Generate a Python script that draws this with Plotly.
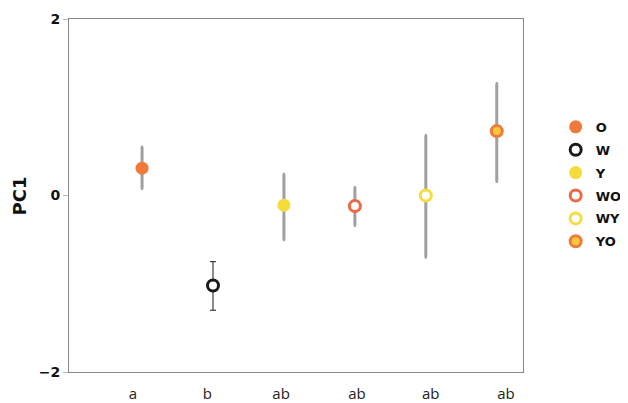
import plotly.graph_objects as go

groups = ["O", "W", "Y", "WO", "WY", "YO"]
x_pos = [0, 1, 2, 3, 4, 5]
means = [0.31, -1.02, -0.11, -0.12, 0.0, 0.73]
upper = [0.55, -0.75, 0.24, 0.09, 0.68, 1.27]
lower = [0.08, -1.30, -0.50, -0.34, -0.70, 0.16]
sig_labels = ["a", "b", "ab", "ab", "ab", "ab"]
label_pos = [-0.13, 0.92, 1.96, 3.03, 4.07, 5.13]

fill_colors = ["#F07A3C", "white", "#F5DC3C", "white", "white", "#F5C93A"]
line_colors = ["#F07A3C", "#1a1a1a", "#F5DC3C", "#EE6A45", "#F7DB3F", "#F07A3C"]
line_widths = [0, 3, 0, 3, 3, 3]
err_colors = ["#a0a0a0", "#1a1a1a", "#a0a0a0", "#a0a0a0", "#a0a0a0", "#a0a0a0"]
err_thick = [3, 1, 3, 3, 3, 3]
err_caps = [1, 3, 1, 1, 1, 1]

fig = go.Figure()
for i, g in enumerate(groups):
    fig.add_trace(go.Scatter(
        x=[x_pos[i]], y=[means[i]], mode="markers", name=g, legendgroup=g,
        marker=dict(size=13 if line_widths[i] == 0 else 11, color=fill_colors[i],
                    line=dict(color=line_colors[i], width=line_widths[i])),
        error_y=dict(type="data", symmetric=False,
                     array=[upper[i] - means[i]], arrayminus=[means[i] - lower[i]],
                     color=err_colors[i], thickness=err_thick[i], width=err_caps[i]),
    ))

fig.add_annotation(text="PC1", xref="paper", yref="paper", x=-0.108, y=0.5,
                   xanchor="center", yanchor="middle", textangle=-90, showarrow=False,
                   font=dict(family="DejaVu Sans", size=18, color="#111", weight="bold"))

fig.update_layout(
    width=620, height=395,
    margin=dict(l=61, r=105, t=11, b=31, autoexpand=False),
    paper_bgcolor="white", plot_bgcolor="white",
    font=dict(family="Open Sans, DejaVu Sans, sans-serif", color="#222"),
    showlegend=True,
    legend=dict(x=1.072, y=0.737, xanchor="left", yanchor="top",
                font=dict(family="DejaVu Sans", size=13, color="#111", weight="bold"),
                tracegroupgap=3, itemwidth=30, bgcolor="rgba(0,0,0,0)"),
    xaxis=dict(range=[-1.03, 5.37], tickvals=label_pos, ticktext=sig_labels,
               showgrid=False, zeroline=False, showline=True, linecolor="#888",
               linewidth=1, mirror=True, ticks="outside", ticklen=8, tickcolor="rgba(0,0,0,0)",
               automargin=False, tickfont=dict(size=15, color="#222")),
    yaxis=dict(range=[-2, 2], tickvals=[-2, 0, 2], ticktext=["\u22122", "0", "2"],
               showgrid=False, zeroline=False, showline=True, linecolor="#888",
               linewidth=1, mirror=True, ticks="outside", ticklen=5, tickcolor="#bbb",
               automargin=False,
               tickfont=dict(family="DejaVu Sans", size=14, color="#111", weight="bold")),
)
fig.write_html("out.html")
